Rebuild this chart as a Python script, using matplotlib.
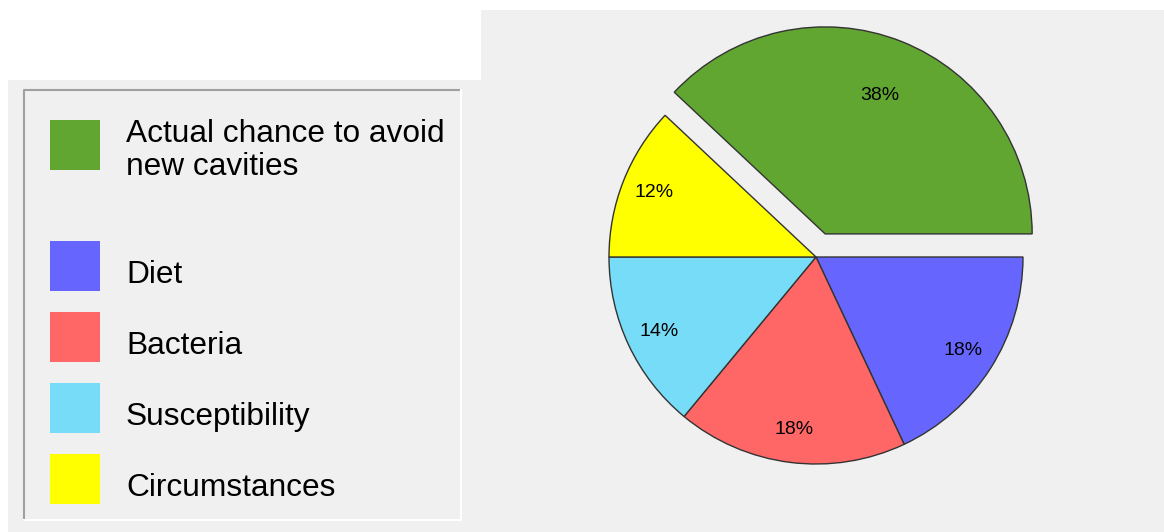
import numpy as np
import matplotlib
matplotlib.use("Agg")
from matplotlib import pyplot as plt
from matplotlib.patches import Rectangle

# data, in legend order
categories = ["Actual chance to avoid\nnew cavities", "Diet", "Bacteria",
              "Susceptibility", "Circumstances"]
shares = [38, 18, 18, 14, 12]
colors = ["#62A632", "#6666FF", "#FF6666", "#77DCF7", "#FFFF00"]

plt.rcParams["font.family"] = ["Liberation Sans", "DejaVu Sans"]

W, H = 1164, 532
fig = plt.figure(figsize=(W / 100, H / 100), dpi=100, facecolor="white")

# background layer, pixel coords (y down)
bg = fig.add_axes([0, 0, 1, 1], zorder=0)
bg.set_xlim(0, W)
bg.set_ylim(H, 0)
bg.axis("off")
panel = "#F0F0F0"
bg.add_patch(Rectangle((481, 10), W - 481, H - 10, facecolor=panel, edgecolor="none"))
bg.add_patch(Rectangle((8, 80), 473, H - 80, facecolor=panel, edgecolor="none"))

# sunken legend frame
bg.plot([24, 24, 461], [520, 90, 90], color="#A0A0A0", lw=1.5)
bg.plot([24, 461, 461], [520, 520, 90], color="#FFFFFF", lw=1.5)

# legend entries
for i, (lab, col) in enumerate(zip(categories, colors)):
    top = 120 if i == 0 else 241 + (i - 1) * 71
    bg.add_patch(Rectangle((50, top), 50, 50, facecolor=col, edgecolor="none"))
    base = 142 if i == 0 else top + 42
    for j, line in enumerate(lab.split("\n")):
        bg.text(126, base + j * 33, line, fontsize=22.8, va="baseline",
                ha="left", color="black")

# pie, center (816, 257) px, radius 207 px
cx, cy, R = 816, 257, 207
half = 260
ax = fig.add_axes([(cx - half) / W, (H - cy - half) / H, 2 * half / W, 2 * half / H],
                  zorder=1)
explode = [0.12] + [0] * (len(shares) - 1)
wedges, texts, autotexts = ax.pie(
    shares, colors=colors, explode=explode,
    startangle=360 * shares[0] / sum(shares), counterclock=False,
    autopct="%.0f%%", pctdistance=0.84,
    wedgeprops=dict(edgecolor="#333333", linewidth=1),
    textprops=dict(fontsize=14, color="black"))

# labels stay at the un-exploded position
for w, t in zip(wedges, autotexts):
    a = np.deg2rad((w.theta1 + w.theta2) / 2)
    t.set_position((0.84 * np.cos(a), 0.84 * np.sin(a)))

lim = half / R
ax.set_xlim(-lim, lim)
ax.set_ylim(-lim, lim)
ax.patch.set_visible(False)

fig.savefig("out.png", dpi=100)
